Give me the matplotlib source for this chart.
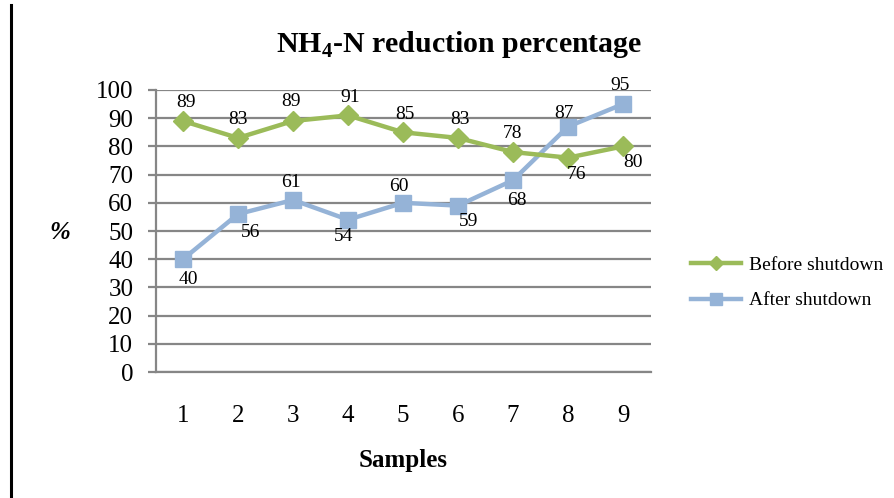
import matplotlib
matplotlib.use("Agg")
import matplotlib.pyplot as plt
from matplotlib.lines import Line2D

samples = [1, 2, 3, 4, 5, 6, 7, 8, 9]
before = [89, 83, 89, 91, 85, 83, 78, 76, 80]
after = [40, 56, 61, 54, 60, 59, 68, 87, 95]
yticks = [0, 10, 20, 30, 40, 50, 60, 70, 80, 90, 100]
title = r"NH$_{\mathbf{4}}$-N reduction percentage"
xlabel = "Samples"
ylabel = "%"
series_names = ["Before shutdown", "After shutdown"]

# label offsets in pixels (dx, dy; dy positive = up)
before_off = [(3, 19), (0, 18), (-2, 20), (2, 18), (2, 18), (2, 18), (-1, 19), (9, -17), (10, -16)]
after_off = [(5, -20), (13, -18), (-2, 17), (-4, -17), (-4, 16), (11, -16), (4, -20), (-4, 13), (-3, 19)]

plt.rcParams['font.family'] = ['Liberation Serif', 'DejaVu Serif']
plt.rcParams['mathtext.fontset'] = 'custom'
plt.rcParams['mathtext.rm'] = 'Liberation Serif'
plt.rcParams['mathtext.bf'] = 'Liberation Serif:bold'

W, H = 895, 498
fig = plt.figure(figsize=(W / 100, H / 100), dpi=100)
ax = fig.add_axes([155.5 / W, (H - 372) / H, 495 / W, 282 / H])

green = '#9BBB59'
blue = '#95B3D7'
grid = '#868686'

ax.plot(samples, before, color=green, lw=3.2, marker='D', ms=10, mec=green, mfc=green, zorder=4)
ax.plot(samples, after, color=blue, lw=3.2, marker='s', ms=12, mec=blue, mfc=blue, zorder=3)

for x, v, (dx, dy) in zip(samples, before, before_off):
    ax.annotate(str(v), (x, v), xytext=(dx, dy), textcoords='offset pixels',
                ha='center', va='center', fontsize=14, zorder=5)
for x, v, (dx, dy) in zip(samples, after, after_off):
    ax.annotate(str(v), (x, v), xytext=(dx, dy), textcoords='offset pixels',
                ha='center', va='center', fontsize=14, zorder=5)

ax.set_xlim(0.5, 9.5)
ax.set_ylim(0, 100)
ax.set_yticks(yticks)
ax.set_xticks(samples)
ax.yaxis.grid(True, color=grid, lw=1.6)
ax.set_axisbelow(True)
for s in ['top', 'right']:
    ax.spines[s].set_visible(False)
for s in ['left', 'bottom']:
    ax.spines[s].set_color(grid)
    ax.spines[s].set_linewidth(1.6)
ax.tick_params(axis='y', length=6, width=1.6, color=grid, labelsize=18, pad=10)
ax.tick_params(axis='x', length=0, labelsize=18, pad=24)

fig.text(459 / W, 1 - 45 / H, title, ha='center', va='center', fontsize=21.5, fontweight='bold')
fig.text(403 / W, 1 - 460 / H, xlabel, ha='center', va='center', fontsize=18, fontweight='bold')
fig.text(60 / W, 1 - 232 / H, ylabel, ha='center', va='center', fontsize=18, fontweight='bold', style='italic')

handles = [Line2D([], [], color=green, lw=3.2, marker='D', ms=7),
           Line2D([], [], color=blue, lw=3.2, marker='s', ms=8)]
fig.legend(handles, series_names, loc='center left', bbox_to_anchor=(673 / W, 1 - 283 / H),
           frameon=False, fontsize=14, handlelength=2.6, handletextpad=0.4, labelspacing=0.9)

fig.add_artist(Line2D([11 / W, 11 / W], [1 - 5 / H, 0], color='black', lw=2.2))

fig.savefig('out.png', dpi=100)
